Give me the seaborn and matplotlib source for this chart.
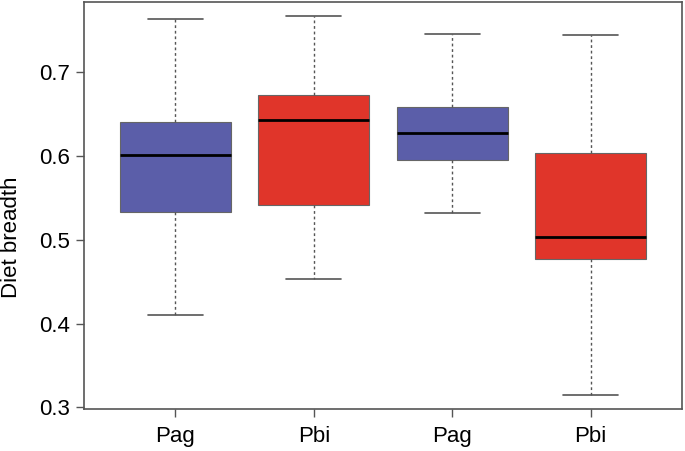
import matplotlib
matplotlib.use("Agg")
import matplotlib.pyplot as plt
import seaborn as sns
import pandas as pd

# five-number summaries (min, Q1, median, Q3, max)
groups = ["g1", "g2", "g3", "g4"]
tick_labels = ["Pag", "Pbi", "Pag", "Pbi"]
lower = [0.410, 0.453, 0.532, 0.315]
q1 = [0.533, 0.541, 0.595, 0.477]
median = [0.601, 0.643, 0.628, 0.503]
q3 = [0.641, 0.673, 0.659, 0.604]
upper = [0.764, 0.767, 0.746, 0.745]
colors = ["#5b5ea9", "#e0352a", "#5b5ea9", "#e0352a"]

rows = []
for i, g in enumerate(groups):
    for v in (lower[i], q1[i], median[i], q3[i], upper[i]):
        rows.append({"group": g, "breadth": v})
df = pd.DataFrame(rows)

sns.set_style("ticks")
plt.rcParams["font.family"] = ["Liberation Sans", "DejaVu Sans"]
plt.rcParams["text.color"] = "black"
plt.rcParams["axes.labelcolor"] = "black"

fig = plt.figure(figsize=(6.85, 4.51), dpi=100)
ax = fig.add_axes([84 / 685, (451 - 409.3) / 451, 598 / 685, 407.6 / 451])

sns.boxplot(
    data=df, x="group", y="breadth", hue="group", order=groups,
    palette=colors, saturation=1, legend=False, width=0.8, whis=(0, 100),
    showfliers=False, linecolor="#444444", linewidth=1.0, ax=ax,
    medianprops={"color": "black", "linewidth": 2},
    whiskerprops={"color": "#555555", "linestyle": (0, (2, 2)), "linewidth": 1},
    capprops={"color": "#555555", "linewidth": 1.2},
    boxprops={"edgecolor": "#666666", "linewidth": 0.8},
)

ax.set_xlim(-0.66, 3.66)
ax.set_ylim(0.2976, 0.7843)
ax.set_yticks([0.3, 0.4, 0.5, 0.6, 0.7])
ax.set_yticklabels(["0.3", "0.4", "0.5", "0.6", "0.7"])
ax.set_xticks(range(len(groups)))
ax.set_xticklabels(tick_labels)
ax.set_xlabel("")
ax.set_ylabel("Diet breadth", fontsize=16)
ax.yaxis.set_label_coords(-0.103, 0.423)
ax.tick_params(axis="both", labelsize=16, length=6, width=1, color="#555555",
               labelcolor="black")
ax.tick_params(axis="y", pad=4)
ax.tick_params(axis="x", pad=6)
for s in ax.spines.values():
    s.set_visible(True)
    s.set_color("#555555")
    s.set_linewidth(1.2)

fig.savefig("out.png", dpi=100)
